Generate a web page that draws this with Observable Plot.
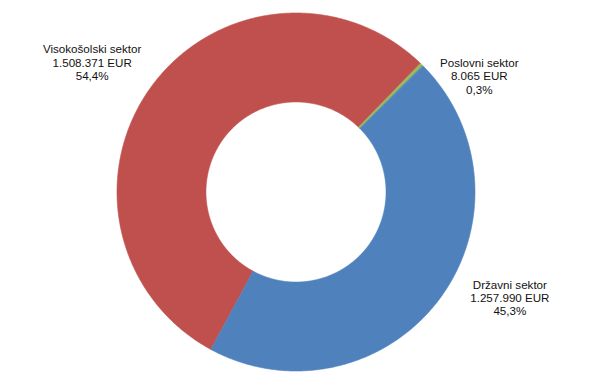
<!DOCTYPE html>
<html>
<head>
<meta charset="utf-8">
<script src="https://cdn.jsdelivr.net/npm/d3@7"></script>
<script src="https://cdn.jsdelivr.net/npm/@observablehq/plot@0.6"></script>
<style>
  html, body { margin: 0; padding: 0; background: #fff; }
  #chart svg { display: block; }
</style>
</head>
<body>
<div id="chart"></div>
<script>
// ---- data ----
const categories = ["Visokošolski sektor", "Poslovni sektor", "Državni sektor"];
const amounts = [1508371, 8065, 1257990];
const sliceColors = ["#C0504D", "#9BBB59", "#4F81BD"];

// ---- layout / style ----
const startDeg = 208.4;       // first slice begins here (clockwise from 12 o'clock)
const innerRatio = 0.503;     // hole radius / outer radius
const labelOffsets = [[-60, -24], [57, 11], [70, -2]]; // px offsets from slice mid-point on the rim

const slLocale = d3.formatLocale({decimal: ",", thousands: ".", grouping: [3], currency: ["", " EUR"]});
const fmtAmount = slLocale.format("$,.0f");
const fmtPct = slLocale.format(".1%");

const total = d3.sum(amounts);
const rad = Math.PI / 180;
let acc = startDeg * rad;
const slices = categories.map((cat, i) => {
  const span = amounts[i] / total * 2 * Math.PI;
  const s = {cat, i, a0: acc, a1: acc + span, value: amounts[i]};
  acc += span;
  return s;
});

// polygon samples for each annular sector (x = sin θ, y = cos θ; y grows upward)
const ringRows = [];
for (const s of slices) {
  const n = Math.max(8, Math.ceil((s.a1 - s.a0) / (0.4 * rad)));
  for (let k = 0; k <= n; k++) {
    const t = s.a0 + (s.a1 - s.a0) * k / n;
    ringRows.push({
      cat: s.cat,
      x1: Math.sin(t), y1: Math.cos(t),
      x2: innerRatio * Math.sin(t), y2: innerRatio * Math.cos(t)
    });
  }
}

const labelRows = slices.map(s => {
  const m = (s.a0 + s.a1) / 2;
  return {
    i: s.i, cat: s.cat,
    x: Math.sin(m), y: Math.cos(m),
    text: `${s.cat}\n${fmtAmount(s.value)}\n${fmtPct(s.value / total)}`
  };
});

const chart = Plot.plot({
  width: 593,
  height: 382,
  marginLeft: 117,
  marginRight: 118,
  marginTop: 13,
  marginBottom: 11,
  style: {fontFamily: "Arial, 'Liberation Sans', sans-serif", background: "#fff"},
  x: {domain: [-1, 1], axis: null},
  y: {domain: [-1, 1], axis: null},
  color: {domain: categories, range: sliceColors},
  marks: [
    Plot.area(ringRows, {
      x1: "x1", y1: "y1", x2: "x2", y2: "y2",
      z: "cat", fill: "cat", stroke: "cat", strokeWidth: 0.6,
      curve: "linear"
    }),
    ...labelRows.map(d => Plot.text([d], {
      x: "x", y: "y", text: "text",
      dx: labelOffsets[d.i][0], dy: labelOffsets[d.i][1],
      textAnchor: "middle", lineAnchor: "middle",
      lineHeight: 1.16, fontSize: 11.6, fill: "#111"
    }))
  ]
});

document.getElementById("chart").appendChild(chart);
</script>
</body>
</html>
